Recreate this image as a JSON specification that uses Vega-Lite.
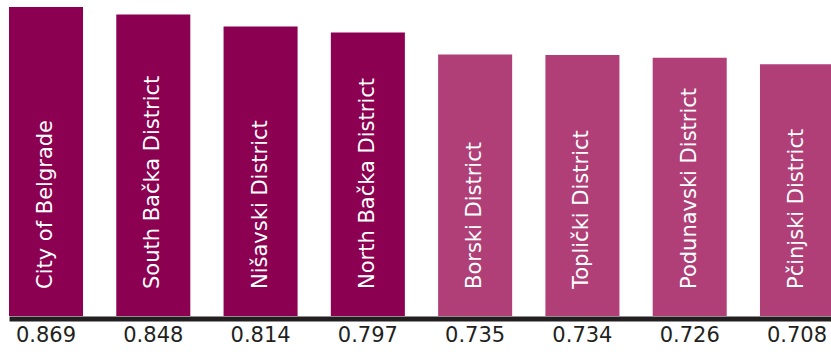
{
  "$schema": "https://vega.github.io/schema/vega-lite/v6.json",
  "autosize": "none",
  "width": 825,
  "height": 316,
  "padding": {"left": 9, "top": 0, "right": 0, "bottom": 39},
  "background": "white",
  "config": {"view": {"stroke": null}},
  "data": {
    "values": [
      {"district": "City of Belgrade", "value": 0.869, "group": "top"},
      {"district": "South Bačka District", "value": 0.848, "group": "top"},
      {"district": "Nišavski District", "value": 0.814, "group": "top"},
      {"district": "North Bačka District", "value": 0.797, "group": "top"},
      {"district": "Borski District", "value": 0.735, "group": "rest"},
      {"district": "Toplički District", "value": 0.734, "group": "rest"},
      {"district": "Podunavski District", "value": 0.726, "group": "rest"},
      {"district": "Pčinjski District", "value": 0.708, "group": "rest"}
    ]
  },
  "encoding": {
    "x": {
      "field": "district",
      "type": "nominal",
      "sort": null,
      "scale": {"paddingInner": 0.31, "paddingOuter": 0},
      "axis": {
        "title": null,
        "labels": false,
        "ticks": false,
        "domain": true,
        "domainWidth": 5,
        "domainColor": "#231f20",
        "offset": 2.5
      }
    }
  },
  "layer": [
    {
      "mark": {"type": "bar"},
      "encoding": {
        "y": {
          "field": "value",
          "type": "quantitative",
          "scale": {"domain": [0, 0.8886], "nice": false, "zero": true},
          "axis": null
        },
        "color": {
          "field": "group",
          "type": "nominal",
          "scale": {"domain": ["top", "rest"], "range": ["#8b0050", "#b03f78"]},
          "legend": null
        }
      }
    },
    {
      "mark": {
        "type": "text",
        "angle": 270,
        "align": "left",
        "baseline": "middle",
        "dx": 27,
        "font": "DejaVu Sans",
        "fontSize": 21,
        "color": "white"
      },
      "encoding": {
        "y": {"datum": 0, "type": "quantitative"},
        "text": {"field": "district"}
      }
    },
    {
      "mark": {
        "type": "text",
        "align": "center",
        "baseline": "middle",
        "dy": 20,
        "font": "DejaVu Sans",
        "fontSize": 21,
        "color": "#231f20"
      },
      "encoding": {
        "y": {"datum": 0, "type": "quantitative"},
        "text": {"field": "value", "format": ".3f"}
      }
    }
  ]
}
